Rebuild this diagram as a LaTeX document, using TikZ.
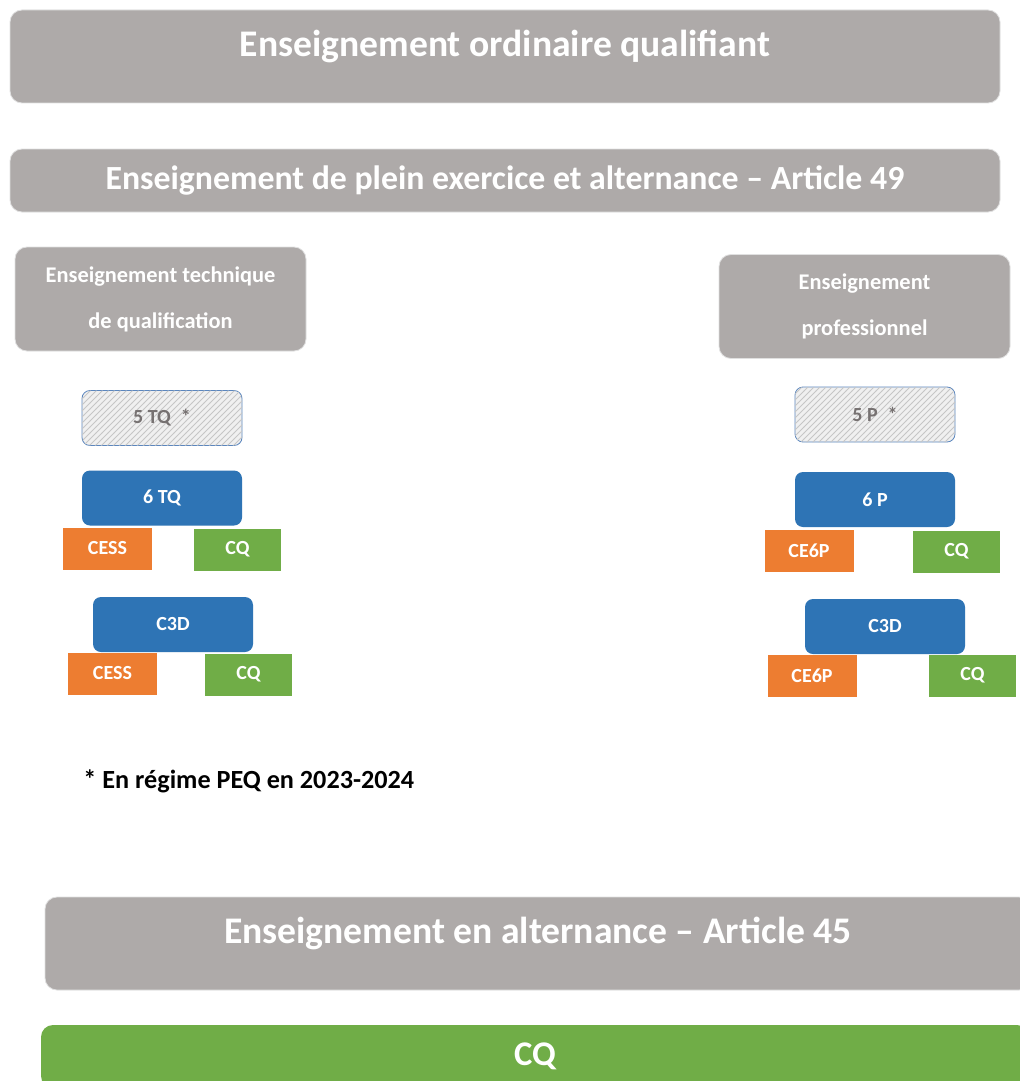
\documentclass[tikz,border=0pt]{standalone}
\usepackage{fontspec}
\setmainfont{Carlito}
\usetikzlibrary{patterns}

\definecolor{gristitre}{HTML}{AEAAA9}
\definecolor{bleuan}{HTML}{2E74B5}
\definecolor{orangecert}{HTML}{ED7D31}
\definecolor{vertcert}{HTML}{70AD47}
\definecolor{grishach}{HTML}{767171}
\definecolor{bordhach}{HTML}{5B86BE}

\tikzset{
  grisbox/.style={fill=gristitre, draw=black!12, rounded corners=6pt, inner sep=0pt,
    text=white, font=\bfseries\fontsize{18.8}{22}\selectfont, align=center},
  titre/.style={text=white, inner sep=0pt, font=\bfseries\fontsize{18.8}{22}\selectfont},
  sectbox/.style={grisbox, minimum width=145.5pt, minimum height=52pt,
    font=\bfseries\fontsize{11.2}{23}\selectfont},
  anbox/.style={fill=bleuan, rounded corners=4pt, inner sep=0pt, text=white,
    minimum width=80pt, minimum height=27.5pt, font=\bfseries\fontsize{10}{12}\selectfont},
  hachbox/.style={anbox, fill=gray!12, draw=bordhach, thin, text=grishach,
    postaction={pattern=north east lines, pattern color=gray!45}},
  certbox/.style={inner sep=0pt, text=white, minimum height=21pt,
    font=\bfseries\fontsize{10}{12}\selectfont},
  cessbox/.style={certbox, fill=orangecert, minimum width=44.5pt},
  cqbox/.style={certbox, fill=vertcert, minimum width=43.5pt}
}

\begin{document}
\begin{tikzpicture}[x=0.5pt, y=-0.5pt]
  \clip (0,0) rectangle (1020,1081);
  \fill[white] (0,0) rectangle (1020,1081);

  % titres
  \node[grisbox, minimum width=495pt, minimum height=46.5pt] (ordinaire) at (505,56.5) {};
  \node[titre] (ordinairet) at (505,46) {Enseignement ordinaire qualifiant};
  \node[grisbox, minimum width=495pt, minimum height=31.5pt, font=\bfseries\fontsize{16.9}{20}\selectfont]
    (plein) at (505,180.5) {Enseignement de plein exercice et alternance -- Article 49};

  % sections
  \node[sectbox] (tq) at (160.5,299) {Enseignement technique\\de qualification};
  \node[sectbox] (pro) at (864.5,306.5) {Enseignement\\professionnel};

  % technique de qualification
  \node[hachbox] (tqcinq) at (162,418) {5 TQ\enspace *};
  \node[anbox] (tqsix) at (162,498) {6 TQ};
  \node[cessbox] (tqcess) at (107.5,548.5) {CESS};
  \node[cqbox] (tqcq) at (237.5,549.5) {CQ};
  \node[anbox] (tqctd) at (173,624.5) {C3D};
  \node[cessbox] (tqcessb) at (112.5,673.5) {CESS};
  \node[cqbox] (tqcqb) at (248.5,674.5) {CQ};

  % professionnel
  \node[hachbox] (pcinq) at (875,414.5) {5 P\enspace *};
  \node[anbox] (psix) at (875,499.5) {6 P};
  \node[cessbox] (pcesp) at (809,550.5) {CE6P};
  \node[cqbox] (pcq) at (956.5,551.5) {CQ};
  \node[anbox] (pctd) at (885,626.5) {C3D};
  \node[cessbox] (pcespb) at (812,676) {CE6P};
  \node[cqbox] (pcqb) at (972.5,675.5) {CQ};

  \node[anchor=west, inner sep=0pt, font=\bfseries\fontsize{13.1}{15}\selectfont] (note) at (83,781)
    {* En régime PEQ en 2023-2024};

  % alternance
  \node[grisbox, minimum width=493pt, minimum height=46.5pt] (alt) at (538,943.5) {};
  \node[titre] (altt) at (538,933) {Enseignement en alternance -- Article 45};
  \node[grisbox, fill=vertcert, draw=none, minimum width=494pt, minimum height=31.5pt] (altcq) at (535,1056.5)
    {};
  \node[titre, font=\bfseries\fontsize{17.3}{20}\selectfont] (altcqt) at (535,1056) {CQ};
\end{tikzpicture}
\end{document}
